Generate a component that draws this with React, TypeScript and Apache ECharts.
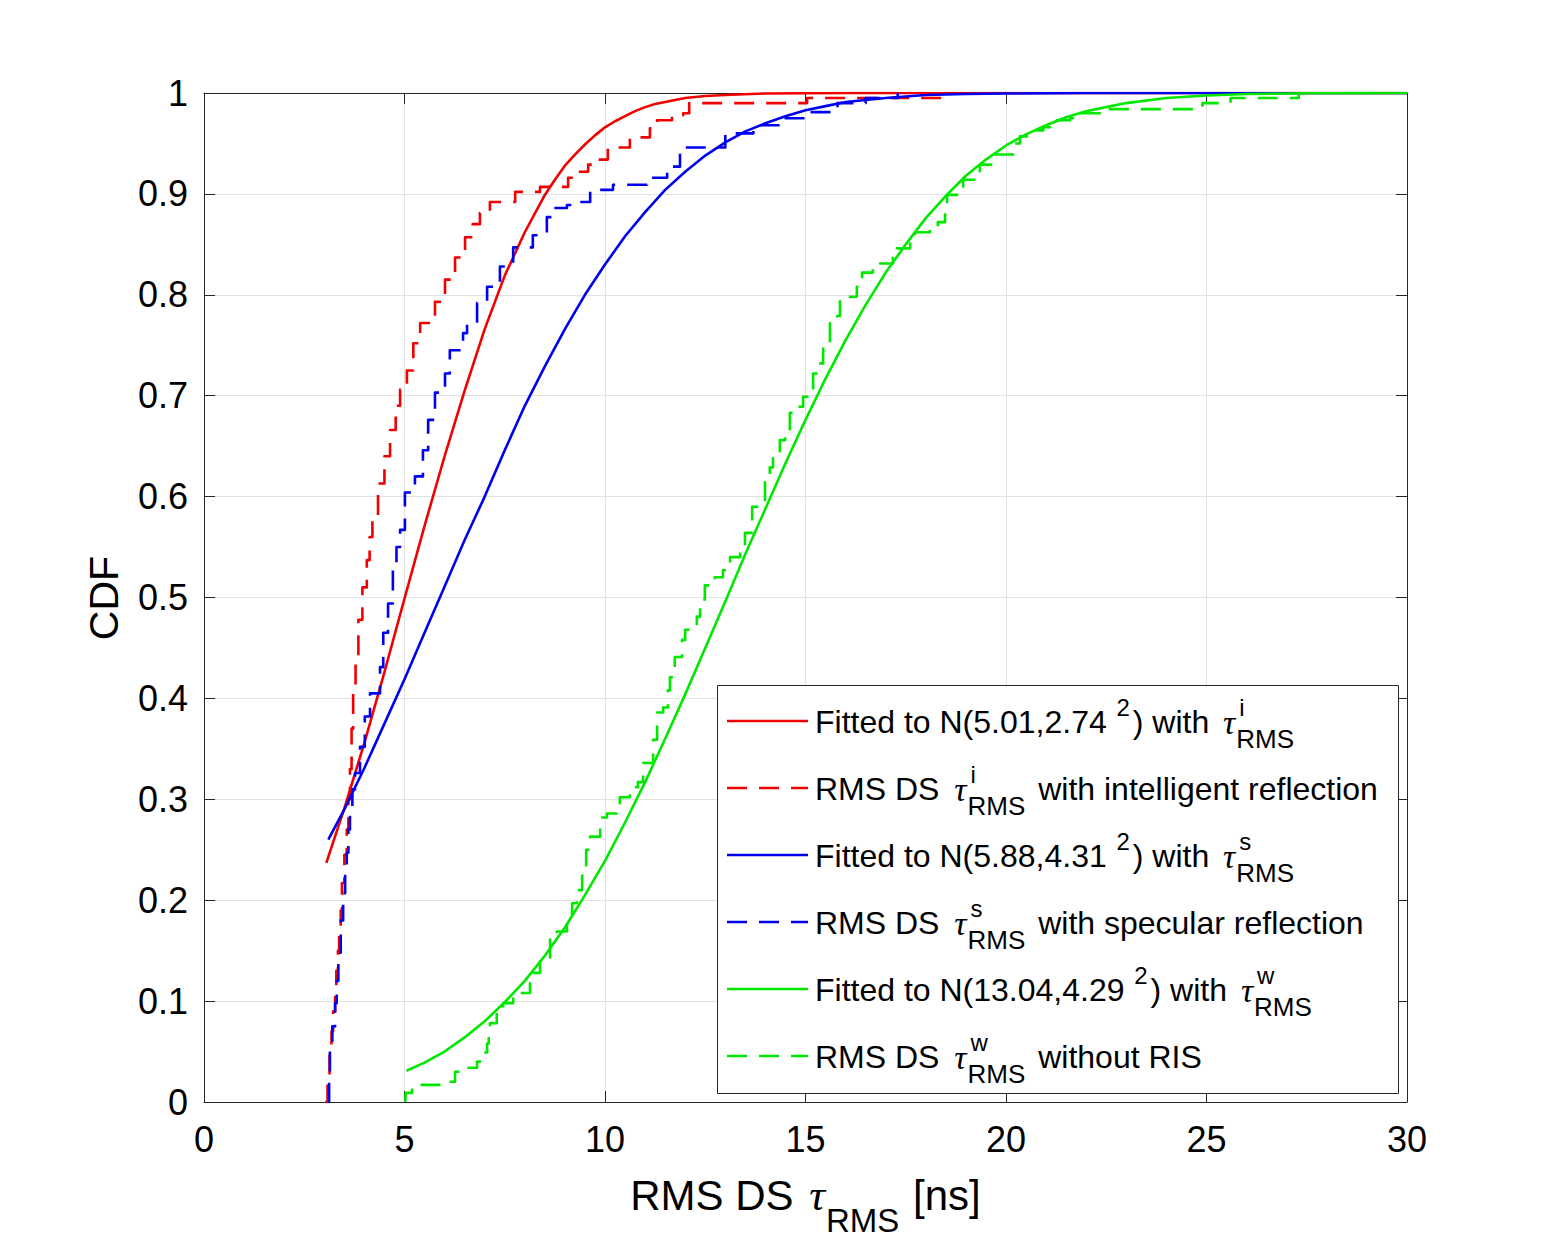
import React, { useEffect, useRef } from "react";
import * as echarts from "echarts";

// ---------- data ----------
const xTicks = [0, 5, 10, 15, 20, 25, 30];
const yTickLabels = ["0", "0.1", "0.2", "0.3", "0.4", "0.5", "0.6", "0.7", "0.8", "0.9", "1"];

// fitted normal CDFs
const redFit: number[][] = [
  [3.05, 0.237], [3.5, 0.291], [4, 0.356], [4.5, 0.426], [5, 0.499], [5.5, 0.571], [6, 0.64],
  [6.5, 0.705], [7, 0.766], [7.5, 0.819], [8, 0.862], [8.5, 0.899], [8.75, 0.914], [9, 0.928],
  [9.25, 0.939], [9.5, 0.949], [9.75, 0.958], [10, 0.966], [10.25, 0.972], [10.5, 0.977],
  [10.75, 0.982], [11, 0.986], [11.25, 0.989], [11.5, 0.991], [12, 0.995], [12.5, 0.997],
  [13, 0.998], [14, 0.9995], [16, 1], [30, 1],
];
const blueFit: number[][] = [
  [3.1, 0.26], [3.5, 0.29], [4, 0.331], [4.5, 0.375], [5, 0.419], [5.5, 0.465], [6, 0.511],
  [6.5, 0.557], [7, 0.6], [7.5, 0.646], [8, 0.69], [8.5, 0.729], [9, 0.766], [9.5, 0.8],
  [10, 0.83], [10.5, 0.858], [11, 0.882], [11.5, 0.904], [12, 0.922], [12.5, 0.938], [13, 0.951],
  [13.5, 0.962], [14, 0.97], [14.5, 0.977], [15, 0.983], [15.5, 0.987], [16, 0.991], [17, 0.995],
  [18, 0.998], [19, 0.999], [20, 0.9995], [22, 1], [30, 1],
];
const greenFit: number[][] = [
  [5.05, 0.031], [5.5, 0.039], [6, 0.05], [6.5, 0.064], [7, 0.08], [7.5, 0.099], [8, 0.12],
  [8.5, 0.145], [9, 0.173], [9.5, 0.205], [10, 0.239], [10.5, 0.277], [11, 0.317], [11.5, 0.36],
  [12, 0.404], [12.5, 0.45], [13, 0.496], [13.5, 0.543], [14, 0.588], [14.5, 0.633], [15, 0.676],
  [15.5, 0.717], [16, 0.755], [16.5, 0.79], [17, 0.822], [17.5, 0.85], [18, 0.876], [18.5, 0.898],
  [19, 0.918], [19.5, 0.934], [20, 0.948], [20.5, 0.959], [21, 0.968], [21.5, 0.976], [22, 0.982],
  [22.5, 0.986], [23, 0.99], [24, 0.995], [25, 0.9975], [26, 0.999], [27.5, 0.9997], [30, 1],
];

// empirical CDFs (stair steps)
const redSteps: number[][] = [
  [3.02, 0], [3.08, 0.02], [3.13, 0.05], [3.18, 0.07], [3.22, 0.09], [3.27, 0.11], [3.3, 0.13],
  [3.34, 0.15], [3.37, 0.17], [3.41, 0.19], [3.44, 0.217], [3.5, 0.245], [3.56, 0.27], [3.6, 0.3],
  [3.64, 0.33], [3.68, 0.37], [3.72, 0.405], [3.78, 0.44], [3.85, 0.478], [3.95, 0.51],
  [4.06, 0.537], [4.13, 0.56], [4.2, 0.58], [4.34, 0.613], [4.5, 0.64], [4.64, 0.666],
  [4.78, 0.69], [4.89, 0.706], [5.06, 0.725], [5.22, 0.752], [5.39, 0.772], [5.76, 0.793],
  [6.01, 0.815], [6.26, 0.837], [6.51, 0.857], [6.7, 0.87], [6.88, 0.881], [7.13, 0.892],
  [7.76, 0.902], [8.38, 0.907], [9.08, 0.916], [9.2, 0.922], [9.58, 0.929], [9.8, 0.934],
  [10.07, 0.946], [10.62, 0.956], [11.12, 0.965], [11.3, 0.973], [11.67, 0.978], [11.95, 0.98],
  [12.1, 0.99], [15.04, 0.995], [18.6, 1.0],
];
const blueSteps: number[][] = [
  [3.1, 0], [3.12, 0.02], [3.14, 0.05], [3.2, 0.075], [3.27, 0.098], [3.31, 0.12], [3.35, 0.148],
  [3.41, 0.18], [3.47, 0.207], [3.52, 0.23], [3.56, 0.247], [3.6, 0.27], [3.64, 0.289],
  [3.7, 0.31], [3.77, 0.326], [3.89, 0.352], [4.01, 0.382], [4.14, 0.405], [4.39, 0.431],
  [4.47, 0.465], [4.59, 0.494], [4.71, 0.527], [4.8, 0.55], [4.89, 0.567], [5.01, 0.604],
  [5.26, 0.62], [5.46, 0.646], [5.59, 0.676], [5.76, 0.703], [6.01, 0.722], [6.13, 0.745],
  [6.46, 0.762], [6.56, 0.772], [6.81, 0.792], [7.06, 0.808], [7.38, 0.828], [7.71, 0.847],
  [8.2, 0.859], [8.55, 0.877], [8.7, 0.886], [9.05, 0.889], [9.3, 0.892], [9.63, 0.904],
  [10.2, 0.909], [11.05, 0.916], [11.55, 0.927], [11.87, 0.946], [13.0, 0.96], [13.7, 0.968],
  [14.36, 0.975], [15.04, 0.981], [15.8, 0.99], [16.5, 0.995], [17.3, 1.0],
];
const greenSteps: number[][] = [
  [5.02, 0], [5.03, 0.009], [5.19, 0.017], [6.0, 0.02], [6.26, 0.03], [6.43, 0.034], [6.81, 0.04],
  [6.88, 0.049], [7.06, 0.058], [7.1, 0.068], [7.13, 0.078], [7.3, 0.091], [7.46, 0.098],
  [7.71, 0.108], [8.13, 0.118], [8.21, 0.128], [8.38, 0.143], [8.63, 0.161], [8.8, 0.169],
  [9.05, 0.183], [9.18, 0.197], [9.3, 0.21], [9.43, 0.233], [9.53, 0.25], [9.63, 0.263],
  [9.88, 0.282], [10.05, 0.286], [10.3, 0.292], [10.37, 0.302], [10.62, 0.312], [10.82, 0.317],
  [10.95, 0.336], [11.2, 0.359], [11.3, 0.386], [11.45, 0.391], [11.57, 0.408], [11.62, 0.421],
  [11.74, 0.441], [11.92, 0.458], [12.0, 0.468], [12.29, 0.481], [12.37, 0.498], [12.49, 0.512],
  [12.74, 0.52], [12.94, 0.527], [13.12, 0.54], [13.37, 0.547], [13.49, 0.564], [13.67, 0.59],
  [13.87, 0.594], [13.99, 0.616], [14.11, 0.629], [14.19, 0.643], [14.36, 0.656], [14.49, 0.663],
  [14.61, 0.683], [14.79, 0.689], [14.94, 0.699], [15.11, 0.706], [15.19, 0.722], [15.29, 0.732],
  [15.44, 0.752], [15.61, 0.772], [15.79, 0.779], [15.86, 0.795], [16.11, 0.798], [16.28, 0.808],
  [16.41, 0.822], [16.68, 0.827], [16.86, 0.831], [17.18, 0.837], [17.28, 0.846], [17.61, 0.854],
  [17.73, 0.862], [18.1, 0.866], [18.3, 0.872], [18.48, 0.884], [18.53, 0.899], [18.78, 0.907],
  [18.93, 0.914], [19.28, 0.921], [19.35, 0.929], [19.68, 0.939], [20.22, 0.95], [20.35, 0.957],
  [20.6, 0.963], [20.93, 0.966], [21.18, 0.973], [21.6, 0.975], [21.85, 0.98], [22.5, 0.984],
  [24.9, 0.99], [25.6, 0.995], [27.3, 1.0],
];

const seriesNames = [
  "Fitted to N(5.01,2.74^2) with τ^i_RMS",
  "RMS DS τ^i_RMS with intelligent reflection",
  "Fitted to N(5.88,4.31^2) with τ^s_RMS",
  "RMS DS τ^s_RMS with specular reflection",
  "Fitted to N(13.04,4.29^2) with τ^w_RMS",
  "RMS DS τ^w_RMS without RIS",
];

// ---------- styles ----------
const RED = "#f00000";
const BLUE = "#0000f0";
const GREEN = "#00e800";
const AXIS = "#262626";
const GRID = "#e1e1e1";
const SANS = '"Liberation Sans", Arial, Helvetica, sans-serif';
const SERIF = '"Liberation Serif", "Times New Roman", serif';
const DASH = [20, 12];
const LW = 2.6;

type Seg = { k: "n" | "sup" | "tau" | "stack" | "sub"; t: string; pad: number };
const n = (t: string, pad = 0): Seg => ({ k: "n", t, pad });
const sup = (t: string, pad = 0): Seg => ({ k: "sup", t, pad });
const tau = (pad = 0): Seg => ({ k: "tau", t: "τ", pad });
const stack = (t: string, pad = 0): Seg => ({ k: "stack", t, pad });
const sub = (t: string, pad = 0): Seg => ({ k: "sub", t, pad });

const legendRows: { color: string; dashed: boolean; segs: Seg[] }[] = [
  { color: RED, dashed: false, segs: [n("Fitted to N(5.01,2.74"), sup(" 2", 3), n(") with ", 3), tau(5), stack("i", 1)] },
  { color: RED, dashed: true, segs: [n("RMS DS "), tau(6), stack("i", 1), n(" with intelligent reflection", 4)] },
  { color: BLUE, dashed: false, segs: [n("Fitted to N(5.88,4.31"), sup(" 2", 3), n(") with ", 3), tau(5), stack("s", 1)] },
  { color: BLUE, dashed: true, segs: [n("RMS DS "), tau(6), stack("s", 1), n(" with specular reflection", 4)] },
  { color: GREEN, dashed: false, segs: [n("Fitted to N(13.04,4.29"), sup(" 2", 3), n(") with ", 3), tau(5), stack("w", 1)] },
  { color: GREEN, dashed: true, segs: [n("RMS DS "), tau(6), stack("w", 1), n(" without RIS", 4)] },
];

let measureCtx: CanvasRenderingContext2D | null = null;
function tw(text: string, size: number, family: string, style = "normal"): number {
  if (!measureCtx) measureCtx = document.createElement("canvas").getContext("2d");
  if (!measureCtx) return text.length * size * 0.55;
  measureCtx.font = `${style} ${size}px ${family}`;
  return measureCtx.measureText(text).width;
}

type Cfg = { main: number; supSize: number; supDy: number; subSize: number; subDy: number; tauSize: number };

function layoutSegs(segs: Seg[], x0: number, baseline: number, cfg: Cfg, out: any[]): number {
  let x = x0;
  const txt = (t: string, xx: number, base: number, size: number, family: string, style = "normal") => {
    out.push({
      type: "text",
      x: xx,
      y: base - 0.35 * size,
      z: 101,
      style: {
        text: t,
        fontSize: size,
        fontFamily: family,
        fontStyle: style,
        fill: "#000",
        align: "left",
        verticalAlign: "middle",
      },
    });
  };
  for (const s of segs) {
    x += s.pad;
    if (s.k === "n") {
      txt(s.t, x, baseline, cfg.main, SANS);
      x += tw(s.t, cfg.main, SANS);
    } else if (s.k === "sup") {
      txt(s.t, x, baseline - cfg.supDy, cfg.supSize, SANS);
      x += tw(s.t, cfg.supSize, SANS);
    } else if (s.k === "tau") {
      txt(s.t, x, baseline + 1, cfg.tauSize, SERIF, "italic");
      x += tw(s.t, cfg.tauSize, SERIF, "italic");
    } else if (s.k === "sub") {
      txt(s.t, x, baseline + cfg.subDy, cfg.subSize, SANS);
      x += tw(s.t, cfg.subSize, SANS);
    } else {
      txt(s.t, x + 3, baseline - cfg.supDy, cfg.supSize, SANS);
      txt("RMS", x, baseline + cfg.subDy, cfg.subSize, SANS);
      x += Math.max(tw(s.t, cfg.supSize, SANS) + 3, tw("RMS", cfg.subSize, SANS));
    }
  }
  return x;
}

function buildGraphics(): any[] {
  const out: any[] = [];
  // legend box
  out.push({
    type: "rect",
    z: 100,
    shape: { x: 717.5, y: 685.5, width: 681, height: 408 },
    style: { fill: "#ffffff", stroke: AXIS, lineWidth: 1 },
  });
  const legCfg: Cfg = { main: 32, supSize: 24, supDy: 17, subSize: 26, subDy: 15, tauSize: 34 };
  legendRows.forEach((row, i) => {
    const ly = 721 + 67 * i;
    out.push({
      type: "line",
      z: 101,
      shape: { x1: 727, y1: ly, x2: 808, y2: ly },
      style: { stroke: row.color, lineWidth: LW, lineDash: row.dashed ? DASH : null },
    });
    layoutSegs(row.segs, 815, 733 + 67 * i, legCfg, out);
  });
  // x axis title, centred on the plot
  const xCfg: Cfg = { main: 42, supSize: 30, supDy: 20, subSize: 33, subDy: 22, tauSize: 44 };
  const xSegs = [n("RMS DS "), tau(4), sub("RMS", 1), n(" [ns]", 2)];
  const tmp: any[] = [];
  const w = layoutSegs(xSegs, 0, 0, xCfg, tmp);
  layoutSegs(xSegs, 805.5 - w / 2, 1210, xCfg, out);
  // y axis title
  out.push({
    type: "text",
    x: 104,
    y: 598,
    rotation: Math.PI / 2,
    z: 101,
    style: {
      text: "CDF",
      fontSize: 41,
      fontFamily: SANS,
      fill: "#000",
      align: "center",
      verticalAlign: "middle",
    },
  });
  return out;
}

function lineSeries(name: string, data: number[][], color: string, dashed: boolean, step: boolean) {
  return {
    name,
    type: "line",
    data,
    xAxisIndex: 0,
    yAxisIndex: 0,
    showSymbol: false,
    symbol: "none",
    step: step ? "end" : false,
    smooth: false,
    clip: true,
    lineStyle: { color, width: LW, type: dashed ? DASH : "solid", join: "round" },
    itemStyle: { color },
    z: 3,
  };
}

export default function App() {
  const ref = useRef<HTMLDivElement>(null);
  useEffect(() => {
    if (!ref.current) return;
    const chart = echarts.init(ref.current, undefined, { renderer: "svg" });
    const axisCommon = {
      type: "value",
      min: 0,
      axisLine: { show: true, onZero: false, lineStyle: { color: AXIS, width: 1 } },
      axisTick: { show: true, inside: true, length: 11, lineStyle: { color: AXIS, width: 1 } },
    };
    chart.setOption({
      animation: false,
      backgroundColor: "#ffffff",
      grid: { left: 204, right: 147, top: 93, bottom: 138, containLabel: false },
      xAxis: [
        {
          ...axisCommon,
          max: 30,
          interval: 5,
          position: "bottom",
          splitLine: { show: true, lineStyle: { color: GRID, width: 1 } },
          axisLabel: {
            show: true,
            margin: 19,
            fontSize: 36,
            fontFamily: SANS,
            color: "#000",
            formatter: (v: number) => (xTicks.includes(v) ? String(v) : ""),
          },
        },
        {
          ...axisCommon,
          max: 30,
          interval: 5,
          position: "top",
          splitLine: { show: false },
          axisLabel: { show: false },
        },
      ],
      yAxis: [
        {
          ...axisCommon,
          max: 1,
          interval: 0.1,
          position: "left",
          splitLine: { show: true, lineStyle: { color: GRID, width: 1 } },
          axisLabel: {
            show: true,
            margin: 16,
            fontSize: 36,
            fontFamily: SANS,
            color: "#000",
            formatter: (v: number) => yTickLabels[Math.round(v * 10)] ?? "",
          },
        },
        {
          ...axisCommon,
          max: 1,
          interval: 0.1,
          position: "right",
          splitLine: { show: false },
          axisLabel: { show: false },
        },
      ],
      series: [
        lineSeries(seriesNames[0], redFit, RED, false, false),
        lineSeries(seriesNames[1], redSteps, RED, true, true),
        lineSeries(seriesNames[2], blueFit, BLUE, false, false),
        lineSeries(seriesNames[3], blueSteps, BLUE, true, true),
        lineSeries(seriesNames[4], greenFit, GREEN, false, false),
        lineSeries(seriesNames[5], greenSteps, GREEN, true, true),
      ],
      graphic: buildGraphics(),
    });
    return () => chart.dispose();
  }, []);
  return (
    <div
      ref={ref}
      style={{ position: "absolute", left: 0, top: 0, width: 1554, height: 1240, background: "#fff" }}
    />
  );
}
